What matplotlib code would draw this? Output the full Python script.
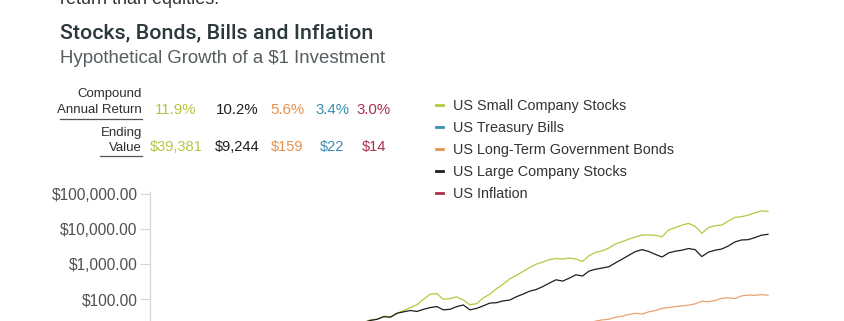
import matplotlib.pyplot as plt
from matplotlib.ticker import FuncFormatter, NullLocator
import numpy as np

# growth of $1, year-end values (log scale)
years = list(range(1926, 2020))

small_stocks = [1.0, 1.2, 1.7, 0.85, 0.55, 0.28, 0.26, 0.6, 0.8, 1.3,
                2.2, 1.0, 1.35, 1.35, 1.2, 1.1, 1.6, 2.9, 4.3, 7.0,
                6.2, 6.1, 5.8, 7.0, 9.5, 10.5, 11.0, 10.4, 15.5, 18.0,
                19.0, 17.0, 22.0, 26.0, 27.0, 33.0, 31.0, 40.0, 48.0, 58.0,
                70.0, 100.0, 140.0, 145.0, 100.0, 105.0, 117.0, 95.0, 70.0, 75.0,
                110.0, 140.0, 200.0, 270.0, 380.0, 480.0, 620.0, 800.0, 1000.0, 1150.0,
                1350.0, 1450.0, 1400.0, 1500.0, 1400.0, 1200.0, 1750.0, 2200.0, 2400.0, 2900.0,
                3800.0, 4400.0, 5200.0, 6000.0, 6800.0, 6800.0, 6700.0, 6000.0, 9500.0, 11000.0,
                13000.0, 14500.0, 12000.0, 7600.0, 11000.0, 12500.0, 13000.0, 17000.0, 21500.0, 22500.0,
                25000.0, 29000.0, 33000.0, 32000.0]

large_stocks = [1.12, 1.5, 2.1, 1.95, 1.45, 0.82, 0.75, 1.15, 1.13, 1.65,
                2.2, 1.45, 1.9, 1.88, 1.7, 1.5, 1.8, 2.25, 2.7, 3.7,
                3.4, 3.6, 3.8, 4.5, 5.9, 7.3, 8.6, 8.5, 13.0, 17.0,
                18.0, 17.0, 22.0, 25.0, 27.0, 32.0, 31.0, 40.0, 44.0, 48.0,
                45.0, 52.0, 58.0, 62.0, 50.0, 52.0, 62.0, 69.0, 50.0, 55.0,
                65.0, 78.0, 80.0, 90.0, 95.0, 118.0, 140.0, 170.0, 190.0, 230.0,
                290.0, 360.0, 330.0, 400.0, 500.0, 460.0, 640.0, 720.0, 780.0, 850.0,
                1100.0, 1400.0, 1800.0, 2300.0, 2600.0, 2300.0, 1900.0, 1600.0, 2100.0, 2350.0,
                2500.0, 2800.0, 2600.0, 1650.0, 2200.0, 2500.0, 2700.0, 3300.0, 4300.0, 4900.0,
                5000.0, 5700.0, 6700.0, 7100.0]

lt_bonds = [1.08, 1.17, 1.17, 1.21, 1.26, 1.19, 1.39, 1.39, 1.53, 1.61,
            1.73, 1.74, 1.84, 1.95, 2.07, 2.06, 2.12, 2.16, 2.22, 2.5,
            2.48, 2.41, 2.49, 2.65, 2.64, 2.54, 2.58, 2.67, 2.86, 2.83,
            2.67, 2.87, 2.69, 2.63, 2.99, 3.02, 3.23, 3.28, 3.4, 3.43,
            3.56, 3.23, 3.22, 2.96, 3.33, 3.76, 3.97, 3.93, 4.1, 4.48,
            5.22, 5.19, 5.12, 5.06, 4.86, 4.95, 6.95, 6.95, 8.0, 10.0,
            12.0, 12.0, 14.0, 16.0, 17.0, 19.0, 21.0, 24.0, 26.0, 27.0,
            31.0, 33.0, 37.0, 40.0, 38.0, 44.0, 48.0, 55.0, 58.0, 62.0,
            65.0, 68.0, 74.0, 88.0, 85.0, 92.0, 107.0, 110.0, 105.0, 125.0,
            132.0, 130.0, 136.0, 130.0]

# bills and inflation sit below the visible window
years_5 = [1926, 1930, 1935, 1940, 1945, 1950, 1955, 1960, 1965, 1970,
           1975, 1980, 1985, 1990, 1995, 2000, 2005, 2010, 2015, 2019]
tbills = [1.03, 1.18, 1.27, 1.28, 1.30, 1.40, 1.55, 1.90, 2.30, 2.95,
          3.90, 5.5, 9.0, 12.5, 15.5, 18.5, 19.5, 20.0, 20.1, 20.5]
inflation = [0.99, 0.86, 0.78, 0.80, 1.0, 1.3, 1.4, 1.5, 1.6, 2.0,
             2.9, 4.3, 5.4, 6.5, 7.5, 8.5, 9.8, 11.0, 12.0, 12.8]

cagr = ["11.9%", "10.2%", "5.6%", "3.4%", "3.0%"]
ending = ["$39,381", "$9,244", "$159", "$22", "$14"]

c_small = "#b8c63e"
c_large = "#1e1e1e"
c_bonds = "#e6924c"
c_bills = "#3b8db3"
c_infl = "#a8304c"
col_colors = [c_small, c_large, c_bonds, c_bills, c_infl]

plt.rcParams["font.family"] = ["Liberation Sans", "DejaVu Sans"]

W, H = 845, 321
fig = plt.figure(figsize=(W / 100, H / 100), dpi=100)


def fx(px):
    return px / W


def fy(py):
    return 1 - py / H


# header text (top line is cut off in the original)
fig.text(fx(60), fy(4), "return than equities.", fontsize=13, color="#333333", va="baseline")
fig.text(fx(60), fy(38), "Stocks, Bonds, Bills and Inflation", fontsize=15.4,
         color="#2b383c", va="baseline", family=["Roboto", "DejaVu Sans"], fontweight="medium")
fig.text(fx(60), fy(63), "Hypothetical Growth of a $1 Investment", fontsize=13.4,
         color="#555d60", va="baseline")

# small stats table
lab_kw = dict(fontsize=9.5, color="#2f2f2f", ha="right", va="baseline")
fig.text(fx(142), fy(97), "Compound", **lab_kw)
fig.text(fx(142), fy(113), "Annual Return", **lab_kw)
fig.text(fx(142), fy(136), "Ending", **lab_kw)
fig.text(fx(142), fy(151), "Value", **lab_kw)
fig.add_artist(plt.Line2D([fx(60), fx(142)], [fy(119), fy(119)], color="#555555", lw=0.9))
fig.add_artist(plt.Line2D([fx(100), fx(142)], [fy(156), fy(156)], color="#555555", lw=0.9))

col_x = [176, 237, 287, 332, 374]
for cx, r, e, c in zip(col_x, cagr, ending, col_colors):
    fig.text(fx(cx), fy(114), r, fontsize=10.8, color=c, ha="center", va="baseline")
    fig.text(fx(cx), fy(151), e, fontsize=10.5, color=c, ha="center", va="baseline")

# chart axes: 1e5 at y=194, 35.1 px per decade, extends below the crop
top_px, dec_px = 192, 35.1
y_lo, y_hi = -1, 5 + 2 / dec_px
bot_px = top_px + (y_hi - y_lo) * dec_px
left_px, right_px = 150, 790
ax = fig.add_axes([fx(left_px), fy(bot_px), (right_px - left_px) / W, (bot_px - top_px) / H])

l_small, = ax.plot(years, small_stocks, color=c_small, lw=0.9)
l_bills, = ax.plot(years_5, tbills, color=c_bills, lw=0.9)
l_bonds, = ax.plot(years, lt_bonds, color="#e8a272", lw=0.9)
l_large, = ax.plot(years, large_stocks, color=c_large, lw=0.9)
l_infl, = ax.plot(years_5, inflation, color=c_infl, lw=0.9)

ax.set_yscale("log")
ax.set_ylim(10 ** y_lo, 10 ** y_hi)
px_yr = (768 - 152) / (2019 - 1926)
ax.set_xlim(1926 - 2 / px_yr, 1926 + (right_px - 152) / px_yr)
# only the ticks that fall inside the cropped picture
ax.yaxis.set_major_locator(plt.FixedLocator([100.0, 1000.0, 10000.0, 100000.0]))
ax.yaxis.set_minor_locator(NullLocator())
ax.yaxis.set_major_formatter(FuncFormatter(lambda v, p: f"${v:,.2f}"))
ax.tick_params(axis="y", length=7, width=0.8, color="#d6d6d6", labelsize=11.2,
               labelcolor="#505050", pad=2)
ax.set_xticks([])
for s in ["top", "right", "bottom"]:
    ax.spines[s].set_visible(False)
ax.spines["left"].set_color("#d8d8d8")
ax.spines["left"].set_linewidth(0.9)

# legend (handles styled as short thick dashes)
handles = []
for c in [c_small, c_bills, c_bonds, c_large, c_infl]:
    handles.append(plt.Line2D([], [], color=c, lw=2))
labels = ["US Small Company Stocks", "US Treasury Bills", "US Long-Term Government Bonds",
          "US Large Company Stocks", "US Inflation"]
fig.legend(handles, labels, loc="upper left", bbox_to_anchor=(fx(436), fy(99)),
           frameon=False, fontsize=10.4, handlelength=0.45, handletextpad=0.7,
           labelspacing=0.55, borderpad=0, borderaxespad=0, labelcolor="#333333")

fig.savefig("out.png", dpi=100)
